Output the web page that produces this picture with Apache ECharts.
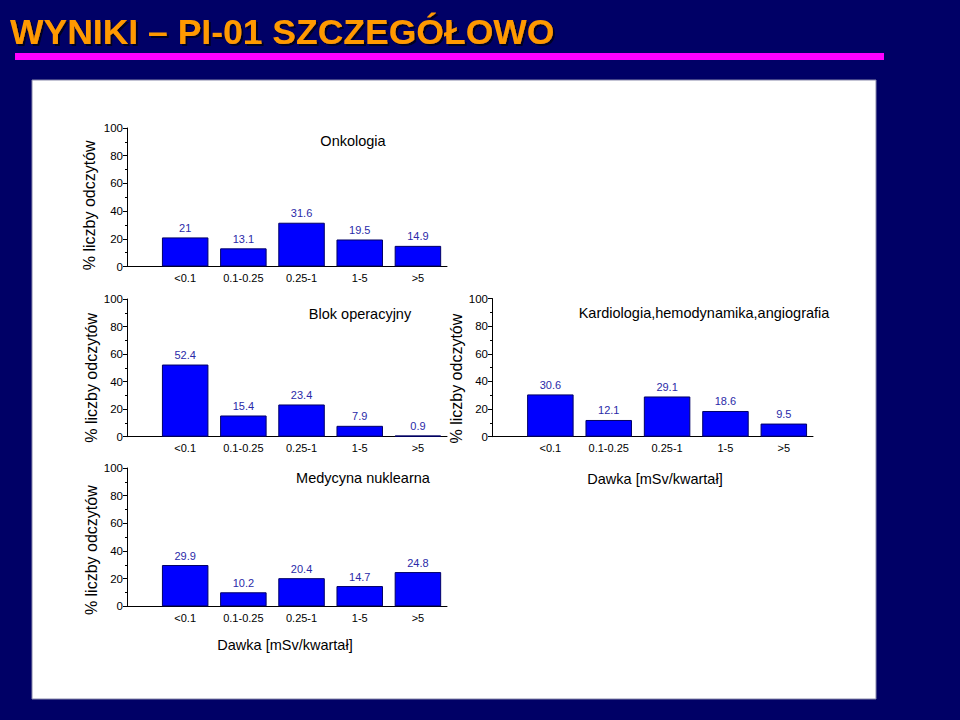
<!DOCTYPE html>
<html>
<head>
<meta charset="utf-8">
<script src="https://cdn.jsdelivr.net/npm/echarts@6/dist/echarts.min.js"></script>
<style>
html,body{margin:0;padding:0;background:#000066;}
#c{width:960px;height:720px;}
</style>
</head>
<body>
<div id="c"></div>
<script>
// ---- data ----
var categories = ['<0.1', '0.1-0.25', '0.25-1', '1-5', '>5'];
var onkologia = [21, 13.1, 31.6, 19.5, 14.9];
var blokOperacyjny = [52.4, 15.4, 23.4, 7.9, 0.9];
var medycynaNuklearna = [29.9, 10.2, 20.4, 14.7, 24.8];
var kardiologia = [30.6, 12.1, 29.1, 18.6, 9.5];
var panelTitles = ['Onkologia', 'Blok operacyjny', 'Medycyna nuklearna', 'Kardiologia,hemodynamika,angiografia'];
var yAxisName = '% liczby odczytów';
var xAxisName = 'Dawka [mSv/kwartał]';
var pageTitle = 'WYNIKI – PI-01 SZCZEGÓŁOWO';

var FONT = 'Liberation Sans, Arial, sans-serif';
var chart = echarts.init(document.getElementById('c'), null, {renderer: 'svg'});

var grids = [
  {left: 127, top: 128, width: 320, height: 138.5},
  {left: 127, top: 299, width: 320, height: 137.7},
  {left: 127, top: 468, width: 320, height: 138.4},
  {left: 492, top: 298.5, width: 321, height: 138.2}
];
var nameGaps = [30, 27, 24, 22];
var nameShift = [16, 20, 26, 22];
var seriesData = [onkologia, blokOperacyjny, medycynaNuklearna, kardiologia];

function toPoints(arr){ return arr.map(function(v,i){ return [i, v]; }); }

var xAxes = [], yAxes = [], series = [];
grids.forEach(function(g, i){
  xAxes.push({
    gridIndex: i, type: 'value', min: -1, max: 4.5, interval: 1,
    splitLine: {show: false},
    axisLine: {show: true, onZero: false, lineStyle: {color: '#000', width: 1}},
    axisTick: {show: false},
    axisLabel: {
      color: '#000', fontSize: 11, fontFamily: FONT, margin: 6,
      showMaxLabel: false,
      formatter: function(v){ return (v >= 0 && v === Math.round(v) && categories[v] !== undefined) ? categories[v] : ''; }
    }
  });
  yAxes.push({
    gridIndex: i, type: 'value', min: 0, max: 100, interval: 20,
    name: yAxisName, nameLocation: 'middle', nameGap: nameGaps[i],
    nameTextStyle: {color: '#000', fontSize: 16, fontFamily: FONT, padding: [0, nameShift[i], 0, 0]},
    splitLine: {show: false},
    axisLine: {show: true, onZero: false, lineStyle: {color: '#000', width: 1}},
    axisTick: {show: true, length: 4, lineStyle: {color: '#000'}},
    minorTick: {show: true, splitNumber: 2, length: 2, lineStyle: {color: '#000'}},
    axisLabel: {color: '#000', fontSize: 11.5, fontFamily: FONT, margin: 4}
  });
  series.push({
    type: 'bar', xAxisIndex: i, yAxisIndex: i,
    data: toPoints(seriesData[i]),
    barWidth: 46.5,
    itemStyle: {color: '#0000ff', borderColor: '#000066', borderWidth: 1},
    label: {show: true, position: 'top', distance: 4, color: '#2a2aa8', fontSize: 11, fontFamily: FONT,
      formatter: function(p){ return String(p.value[1]); }}
  });
});

var option = {
  backgroundColor: '#000066',
  animation: false,
  grid: grids,
  xAxis: xAxes,
  yAxis: yAxes,
  series: series,
  graphic: [
    {type: 'rect', z: -10, shape: {x: 32, y: 80, width: 844, height: 619}, style: {fill: '#ffffff', stroke: '#8888aa', lineWidth: 1}},
    {type: 'rect', z: -10, shape: {x: 15, y: 53, width: 869, height: 7}, style: {fill: '#ff00ff'}},
    {type: 'text', z: 10, x: 10, y: 32, style: {text: pageTitle, fill: '#ff9900', font: 'bold 35.5px ' + FONT,
      textVerticalAlign: 'middle', textShadowColor: '#000022', textShadowOffsetX: 2, textShadowOffsetY: 2, textShadowBlur: 1}},
    {type: 'text', z: 10, x: 353, y: 141, style: {text: panelTitles[0], fill: '#000', font: '14.5px ' + FONT, textAlign: 'center', textVerticalAlign: 'middle'}},
    {type: 'text', z: 10, x: 360, y: 314, style: {text: panelTitles[1], fill: '#000', font: '14.5px ' + FONT, textAlign: 'center', textVerticalAlign: 'middle'}},
    {type: 'text', z: 10, x: 363, y: 478, style: {text: panelTitles[2], fill: '#000', font: '14.5px ' + FONT, textAlign: 'center', textVerticalAlign: 'middle'}},
    {type: 'text', z: 10, x: 704, y: 313, style: {text: panelTitles[3], fill: '#000', font: '14.5px ' + FONT, textAlign: 'center', textVerticalAlign: 'middle'}},
    {type: 'text', z: 10, x: 285, y: 645, style: {text: xAxisName, fill: '#000', font: '14.5px ' + FONT, textAlign: 'center', textVerticalAlign: 'middle'}},
    {type: 'text', z: 10, x: 655, y: 479, style: {text: xAxisName, fill: '#000', font: '14.5px ' + FONT, textAlign: 'center', textVerticalAlign: 'middle'}}
  ]
};
chart.setOption(option);
</script>
</body>
</html>
